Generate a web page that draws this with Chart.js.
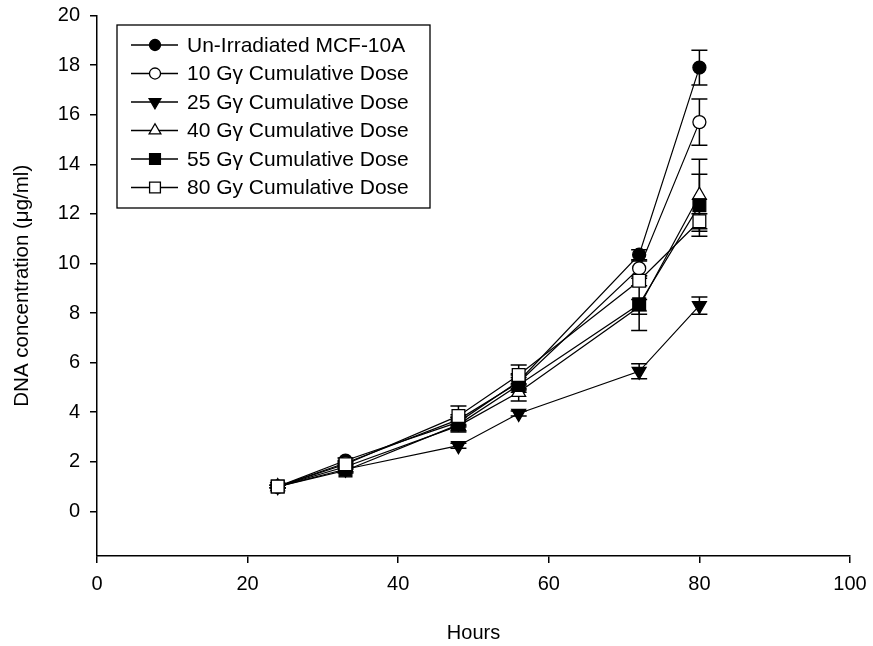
<!DOCTYPE html>
<html>
<head>
<meta charset="utf-8">
<script src="https://cdn.jsdelivr.net/npm/chart.js@4/dist/chart.umd.min.js"></script>
<style>
  html, body { margin: 0; padding: 0; background: #fff; }
  #wrap { width: 873px; height: 646px; }
</style>
</head>
<body>
<div id="wrap"><canvas id="myChart" width="873" height="646"></canvas></div>
<script>
const hours = [24, 33, 48, 56, 72, 80]
const xTicks = [0, 20, 40, 60, 80, 100]
const yTicks = [0, 2, 4, 6, 8, 10, 12, 14, 16, 18, 20]

const seriesNames = [
    'Un-Irradiated MCF-10A',
    '10 Gγ Cumulative Dose',
    '25 Gγ Cumulative Dose',
    '40 Gγ Cumulative Dose',
    '55 Gγ Cumulative Dose',
    '80 Gy Cumulative Dose'
]

// mean DNA concentration per time point
const unIrradiated = [1.0, 2.05, 3.6, 5.25, 10.35, 17.9]
const dose10 = [1.0, 1.95, 3.7, 5.2, 9.8, 15.7]
const dose25 = [1.0, 1.7, 2.65, 3.95, 5.65, 8.3]
const dose40 = [1.0, 1.8, 3.45, 4.8, 8.25, 12.75]
const dose55 = [1.0, 1.65, 3.5, 5.1, 8.35, 12.35]
const dose80 = [1.0, 1.9, 3.85, 5.5, 9.3, 11.7]

// error (+/-) for each point
const unIrradiatedErr = [0.05, 0.1, 0.2, 0.3, 0.2, 0.7]
const dose10Err = [0.05, 0.1, 0.2, 0.3, 0.3, 0.93]
const dose25Err = [0.05, 0.1, 0.1, 0.1, 0.3, 0.35]
const dose40Err = [0.05, 0.1, 0.2, 0.35, 0.3, 1.45]
const dose55Err = [0.05, 0.1, 0.3, 0.3, 1.05, 1.25]
const dose80Err = [0.05, 0.1, 0.4, 0.4, 0.2, 0.3]

const means = [unIrradiated, dose10, dose25, dose40, dose55, dose80]
const errors = [unIrradiatedErr, dose10Err, dose25Err, dose40Err, dose55Err, dose80Err]

// marker look for each series
const markers = [
    { style: 'circle', rotation: 0, radius: 6.5, fill: '#000' },
    { style: 'circle', rotation: 0, radius: 6.5, fill: '#fff' },
    { style: 'triangle', rotation: 180, radius: 8, fill: '#000' },
    { style: 'triangle', rotation: 0, radius: 8, fill: '#fff' },
    { style: 'rect', rotation: 0, radius: 9, fill: '#000' },
    { style: 'rect', rotation: 0, radius: 9, fill: '#fff' }
]

const fontFamily = '"Liberation Sans", Arial, Helvetica, sans-serif'

const datasets = means.map((vals, i) => ({
    label: seriesNames[i],
    data: vals.map((v, j) => ({ x: hours[j], y: v })),
    errors: errors[i],
    borderColor: '#000',
    borderWidth: 1.2,
    pointStyle: markers[i].style,
    rotation: markers[i].rotation,
    pointRadius: markers[i].radius,
    pointHoverRadius: markers[i].radius,
    pointBackgroundColor: markers[i].fill,
    pointBorderColor: '#000',
    pointBorderWidth: 1.3,
    fill: false,
    tension: 0,
    order: means.length - 1 - i
}))

// error bars go under the markers
const errorBars = {
    id: 'errorBars',
    beforeDatasetsDraw(chart) {
        const ctx = chart.ctx
        const xs = chart.scales.x
        const ys = chart.scales.y
        ctx.save()
        ctx.strokeStyle = '#000'
        ctx.lineWidth = 1.5
        chart.data.datasets.forEach((ds) => {
            ds.data.forEach((p, j) => {
                const e = ds.errors[j]
                const px = xs.getPixelForValue(p.x)
                const top = ys.getPixelForValue(p.y + e)
                const bot = ys.getPixelForValue(p.y - e)
                ctx.beginPath()
                ctx.moveTo(px, top)
                ctx.lineTo(px, bot)
                ctx.moveTo(px - 8, top)
                ctx.lineTo(px + 8, top)
                ctx.moveTo(px - 8, bot)
                ctx.lineTo(px + 8, bot)
                ctx.stroke()
            })
        })
        ctx.restore()
    }
}

// boxed legend in the upper left of the plot
const boxLegend = {
    id: 'boxLegend',
    afterDraw(chart) {
        const ctx = chart.ctx
        const left = 117
        const top = 25
        const w = 313
        const h = 183
        ctx.save()
        ctx.strokeStyle = '#000'
        ctx.lineWidth = 1.3
        ctx.strokeRect(left, top, w, h)
        ctx.font = '21px ' + fontFamily
        ctx.fillStyle = '#000'
        ctx.textBaseline = 'middle'
        chart.data.datasets.forEach((ds, i) => {
            const y = 45 + i * 28.5
            ctx.beginPath()
            ctx.lineWidth = 1.3
            ctx.moveTo(131, y)
            ctx.lineTo(178, y)
            ctx.stroke()
            ctx.fillStyle = markers[i].fill
            Chart.helpers.drawPoint(ctx, {
                pointStyle: markers[i].style,
                rotation: markers[i].rotation,
                radius: markers[i].radius * 0.85,
                borderWidth: 1.3
            }, 155, y)
            ctx.fillStyle = '#000'
            ctx.fillText(ds.label, 187, y + 1)
        })
        ctx.restore()
    }
}

const cfg = {
    type: 'line',
    data: { datasets: datasets },
    options: {
        responsive: false,
        animation: false,
        layout: {
            padding: { left: 0, right: 23, top: 15.5, bottom: 0 }
        },
        scales: {
            x: {
                type: 'linear',
                min: 0,
                max: 100,
                afterBuildTicks: (s) => { s.ticks = xTicks.map(v => ({ value: v })) },
                afterFit: (s) => {
                    s.height = 90
                    s.paddingLeft = 0
                    s.paddingRight = 0
                },
                ticks: {
                    color: '#000',
                    padding: 9,
                    maxRotation: 0,
                    font: { size: 20, family: fontFamily }
                },
                grid: {
                    drawOnChartArea: false,
                    drawTicks: true,
                    tickLength: 7,
                    color: '#000',
                    lineWidth: 1.5
                },
                border: { color: '#000', width: 1.5 },
                title: {
                    display: true,
                    text: 'Hours',
                    color: '#000',
                    padding: { top: 0, bottom: 1 },
                    font: { size: 20, family: fontFamily }
                }
            },
            y: {
                type: 'linear',
                min: -1.8,
                max: 20,
                afterBuildTicks: (s) => { s.ticks = yTicks.map(v => ({ value: v })) },
                afterFit: (s) => {
                    s.width = 97
                    s.paddingTop = 0
                    s.paddingBottom = 0
                },
                ticks: {
                    color: '#000',
                    padding: 10,
                    font: { size: 20, family: fontFamily }
                },
                grid: {
                    drawOnChartArea: false,
                    drawTicks: true,
                    tickLength: 7,
                    color: '#000',
                    lineWidth: 1.5
                },
                border: { color: '#000', width: 1.5 },
                title: {
                    display: true,
                    text: 'DNA concentration (μg/ml)',
                    color: '#000',
                    padding: { top: 10, bottom: 0 },
                    font: { size: 20.5, family: fontFamily }
                }
            }
        },
        plugins: {
            legend: { display: false },
            tooltip: { enabled: false }
        }
    },
    plugins: [errorBars, boxLegend]
}

const ctx = document.getElementById('myChart').getContext('2d')
const myChart = new Chart(ctx, cfg)
</script>
</body>
</html>
